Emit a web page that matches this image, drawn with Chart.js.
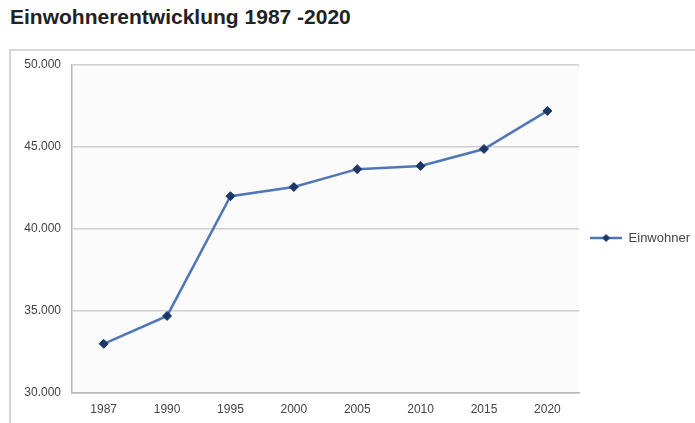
<!DOCTYPE html>
<html>
<head>
<meta charset="utf-8">
<script src="https://cdn.jsdelivr.net/npm/chart.js@4/dist/chart.umd.min.js"></script>
<style>
  html, body { margin: 0; padding: 0; background: #fff; }
  body { width: 695px; height: 423px; position: relative; overflow: hidden; font-family: "Liberation Sans", Arial, sans-serif; }
  #title { position: absolute; left: 10px; top: 5px; font-size: 21px; font-weight: bold; color: #222; }
  #frame { position: absolute; left: 9px; top: 49px; width: 700px; height: 400px; border: 2px solid #d6d6d6; box-sizing: border-box; }
  #wrap { position: absolute; left: 0; top: 0; width: 695px; height: 423px; }
</style>
</head>
<body>
<div id="title">Einwohnerentwicklung 1987 -2020</div>
<div id="frame"></div>
<div id="wrap"><canvas id="c" width="695" height="423"></canvas></div>
<script>
const years = ["1987", "1990", "1995", "2000", "2005", "2010", "2015", "2020"];
const einwohner = [33000, 34700, 42000, 42560, 43650, 43840, 44880, 47200];
const yTicks = [30000, 35000, 40000, 45000, 50000];
const seriesName = "Einwohner";

function fmtDE(v) {
  return String(Math.round(v)).replace(/\B(?=(\d{3})+(?!\d))/g, ".");
}

// legend marker: line with diamond
const mk = document.createElement('canvas');
mk.width = 32; mk.height = 10;
(function () {
  const g = mk.getContext('2d');
  g.strokeStyle = '#4f77b5'; g.lineWidth = 2.5;
  g.beginPath(); g.moveTo(0, 5); g.lineTo(32, 5); g.stroke();
  g.fillStyle = '#1c3766';
  g.beginPath(); g.moveTo(16, 1); g.lineTo(20, 5); g.lineTo(16, 9); g.lineTo(12, 5); g.closePath(); g.fill();
})();

const bgPlugin = {
  id: 'bg',
  afterLayout(chart) {
    if (chart.legend) { chart.legend.top -= 6; chart.legend.bottom -= 6; }
  },
  beforeDraw(chart) {
    const a = chart.chartArea, ctx = chart.ctx;
    ctx.save(); ctx.fillStyle = '#fbfbfb';
    ctx.fillRect(a.left, a.top, a.right - a.left, a.bottom - a.top);
    ctx.restore();
  }
};

const FONT = '"Liberation Sans", Arial, sans-serif';

new Chart(document.getElementById('c'), {
  type: 'line',
  data: {
    labels: years,
    datasets: [{
      label: seriesName,
      data: einwohner,
      borderColor: '#4f77b5',
      borderWidth: 2.5,
      pointStyle: 'rectRot',
      pointRadius: 4.5,
      pointBackgroundColor: '#1c3766',
      pointBorderColor: '#1c3766',
      pointBorderWidth: 1,
      tension: 0,
      fill: false
    }]
  },
  options: {
    responsive: false,
    animation: false,
    devicePixelRatio: 1,
    layout: { padding: { left: 12, top: 65, right: -5, bottom: 0 } },
    plugins: {
      title: { display: false },
      tooltip: { enabled: false },
      legend: {
        position: 'right',
        align: 'center',
        labels: {
          usePointStyle: true,
          pointStyleWidth: 32,
          boxHeight: 10,
          padding: 11,
          color: '#444',
          font: { family: FONT, size: 13 },
          generateLabels(chart) {
            return chart.data.datasets.map((d, i) => ({
              text: d.label, pointStyle: mk, fillStyle: 'transparent', strokeStyle: 'transparent',
              lineWidth: 0, datasetIndex: i, fontColor: '#444'
            }));
          }
        }
      }
    },
    scales: {
      x: {
        offset: true,
        grid: { display: false, drawTicks: false },
        border: { display: true, color: '#b8b8b8', width: 1.5 },
        ticks: { color: '#444', padding: 9, font: { family: FONT, size: 12 }, maxRotation: 0 },
        afterFit(s) { s.height = 30; }
      },
      y: {
        min: 30000, max: 50000,
        afterBuildTicks(s) { s.ticks = yTicks.map(v => ({ value: v })); },
        grid: { color: '#cfcfcf', lineWidth: 1.5, drawTicks: false },
        border: { display: true, color: '#b8b8b8', width: 1.5 },
        ticks: { color: '#444', padding: 11, font: { family: FONT, size: 12 }, callback: v => fmtDE(v) },
        afterFit(s) { s.width = 60; }
      }
    }
  },
  plugins: [bgPlugin]
});
</script>
</body>
</html>
